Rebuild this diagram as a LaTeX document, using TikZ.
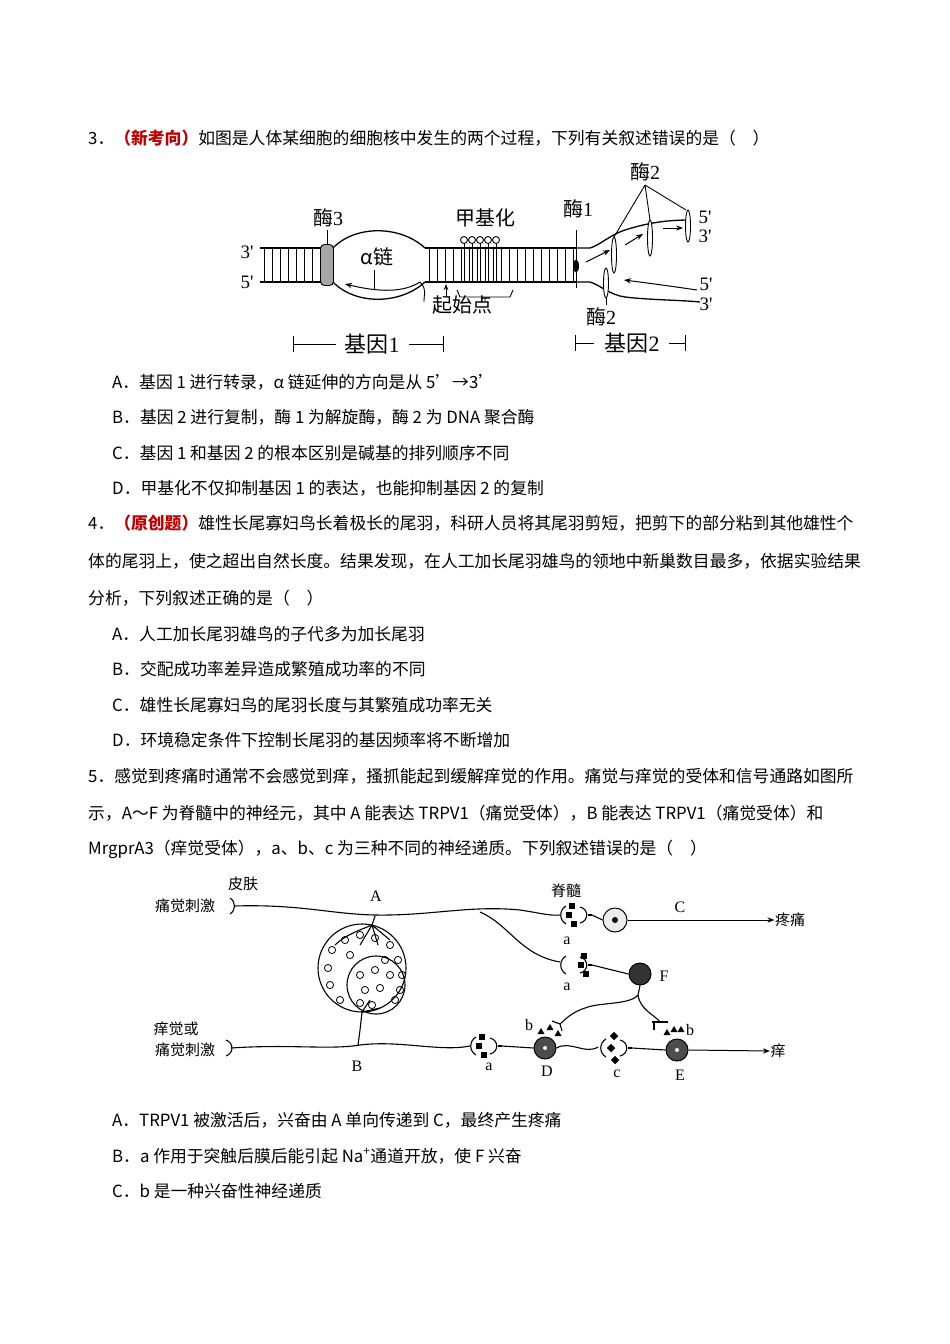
\documentclass[tikz,border=0pt]{standalone}
\usepackage{fontspec}
\setmainfont{Noto Sans CJK SC}
\newfontfamily\latf{Liberation Serif}
\usetikzlibrary{arrows.meta,shapes.geometric}
\definecolor{dred}{HTML}{C00000}
\newcommand{\ap}{{\char"27}}
\newcommand{\mysyn}[2]{%
 \draw (#1+8,#2-9) .. controls (#1+1,#2-5) and (#1+1,#2+5) .. (#1+8,#2+9);
 \draw (#1+22,#2-8) .. controls (#1+31,#2-6) and (#1+31,#2+6) .. (#1+22,#2+8);
 \draw (#1+30,#2) -- (#1+34,#2);}
\newcommand{\sqves}[2]{\fill (#1+11,#2-12) rectangle (#1+17,#2-6);\fill (#1+8,#2-3) rectangle (#1+14,#2+3);\fill (#1+13,#2+6) rectangle (#1+19,#2+12);}
\begin{document}
\begin{tikzpicture}[x=1pt,y=-1pt,
 body/.style={anchor=west,font=\fontsize{16.8}{18}\selectfont,inner sep=0},
 lab/.style={font=\fontsize{20}{22}\selectfont,inner sep=0},
 slab/.style={font=\fontsize{15}{17}\selectfont,inner sep=0},
 llab/.style={font=\fontsize{16}{17}\selectfont\latf,inner sep=0},
 strand/.style={line width=1.3pt},
 arr/.style={-{Stealth[length=7pt]},line width=1pt},
 cell/.style={circle,draw,line width=1pt,minimum size=24pt,inner sep=0}]
\useasboundingbox (0,0) rectangle (950,1344);
\fill[white] (0,0) rectangle (950,1344);
% ---------- text ----------
\node[body] (q3) at (88,138) {3．\textcolor{dred}{\textbf{（新考向）}}如图是人体某细胞的细胞核中发生的两个过程，下列有关叙述错误的是（\quad ）};
\node[body] (q3a) at (112,382) {A．基因 1 进行转录，α 链延伸的方向是从 5\ap→3\ap};
\node[body] (q3b) at (112,417) {B．基因 2 进行复制，酶 1 为解旋酶，酶 2 为 DNA 聚合酶};
\node[body] (q3c) at (112,453) {C．基因 1 和基因 2 的根本区别是碱基的排列顺序不同};
\node[body] (q3d) at (112,488) {D．甲基化不仅抑制基因 1 的表达，也能抑制基因 2 的复制};
\node[body] (q4) at (88,523) {4．\textcolor{dred}{\textbf{（原创题）}}雄性长尾寡妇鸟长着极长的尾羽，科研人员将其尾羽剪短，把剪下的部分粘到其他雄性个};
\node[body] (q4l2) at (88,561) {体的尾羽上，使之超出自然长度。结果发现，在人工加长尾羽雄鸟的领地中新巢数目最多，依据实验结果};
\node[body] (q4l3) at (88,598) {分析，下列叙述正确的是（\quad ）};
\node[body] (q4a) at (112,634) {A．人工加长尾羽雄鸟的子代多为加长尾羽};
\node[body] (q4b) at (112,669) {B．交配成功率差异造成繁殖成功率的不同};
\node[body] (q4c) at (112,705) {C．雄性长尾寡妇鸟的尾羽长度与其繁殖成功率无关};
\node[body] (q4d) at (112,740) {D．环境稳定条件下控制长尾羽的基因频率将不断增加};
\node[body] (q5) at (88,776) {5．感觉到疼痛时通常不会感觉到痒，搔抓能起到缓解痒觉的作用。痛觉与痒觉的受体和信号通路如图所};
\node[body] (q5l2) at (88,813) {示，A～F 为脊髓中的神经元，其中 A 能表达 TRPV1（痛觉受体），B 能表达 TRPV1（痛觉受体）和};
\node[body] (q5l3) at (88,849) {MrgprA3（痒觉受体），a、b、c 为三种不同的神经递质。下列叙述错误的是（\quad ）};
\node[body] (q5a) at (112,1120) {A．TRPV1 被激活后，兴奋由 A 单向传递到 C，最终产生疼痛};
\node[body] (q5b) at (112,1156) {B．a 作用于突触后膜后能引起 Na\textsuperscript{+}通道开放，使 F 兴奋};
\node[body] (q5c) at (112,1191) {C．b 是一种兴奋性神经递质};
% ---------- figure 1 ----------
\begin{scope}[line width=0.9pt]
\draw[strand] (260,248) -- (322,248) (260,282) -- (322,282);
\foreach \x in {264,272,...,316} \draw (\x,248) -- (\x,282);
\draw[strand] (333,248) .. controls (355,225) and (400,225) .. (425,248);
\draw[strand] (333,282) .. controls (355,305) and (400,305) .. (425,282);
\draw[strand] (425,248) -- (577,248) (425,282) -- (577,282);
\foreach \x in {429,437,...,573} \draw (\x,248) -- (\x,282);
\node[draw,fill=gray!70,rounded corners=4pt,minimum width=13pt,minimum height=41pt,inner sep=0] (e3) at (327,265) {};
\draw (e3.north) -- (327,230);
\node[lab] (e3l) at (328,218) {酶{\latf 3}};
\draw[line width=1pt,-{Stealth[length=7pt]}] (420,282) .. controls (400,295) and (370,290) .. (345,284);
\draw (374,270) -- (374,290);
\draw (420,282) .. controls (428,290) and (423,298) .. (424,302);
\node[lab] (al) at (377,257) {α链};
\foreach \x in {464,472,...,496} {\draw (\x,240) circle (3.5); \draw (\x,243.5) -- (\x,282);}
\node[lab] (me) at (485,218) {甲基化};
\draw (457,290) -- (460,297) -- (510,297) -- (513,290) (485,297) -- (485,301);
\node[lab] (st) at (462,305) {起始点};
\draw[-{Stealth[length=6pt]}] (446,297) -- (446,284);
\node[ellipse,fill=black,minimum width=6pt,minimum height=13pt,inner sep=0] (e1) at (576,266) {};
\draw (576,230) -- (576,288);
\node[lab] (e1l) at (578,209) {酶{\latf 1}};
\draw[strand] (577,248) -- (590,248) .. controls (600,245) and (610,235) .. (625,230) .. controls (650,222) and (670,220) .. (690,220);
\draw[strand] (577,282) -- (590,282) .. controls (600,285) and (610,295) .. (625,297) .. controls (650,300) and (680,300) .. (700,302);
\foreach \p/\h in {(614,255)/36,(650,238)/36,(688,226)/32}
 \node[draw,fill=white,ellipse,minimum width=5pt,minimum height=\h pt,inner sep=0] at \p {};
\node[draw,fill=white,ellipse,minimum width=5pt,minimum height=30pt,inner sep=0] (e2b) at (606,283) {};
\node[lab] (e2t) at (645,172) {酶{\latf 2}};
\draw (645,185) -- (614,237) (645,185) -- (650,220) (645,185) -- (686,210);
\draw (e2b.south) -- (606,305);
\node[lab] (e2bl) at (601,317) {酶{\latf 2}};
\draw[arr] (586,262) -- (610,250);
\draw[arr] (625,245) -- (643,234);
\draw[arr] (663,228) -- (683,228);
\draw[arr] (697,290) .. controls (670,286) and (640,282) .. (624,280);
\node[lab,font=\fontsize{19}{20}\selectfont\latf] at (247,252) {3\ap};
\node[lab,font=\fontsize{19}{20}\selectfont\latf] at (247,282) {5\ap};
\node[lab,font=\fontsize{19}{20}\selectfont\latf] at (705,217) {5\ap};
\node[lab,font=\fontsize{19}{20}\selectfont\latf] at (705,236) {3\ap};
\node[lab,font=\fontsize{19}{20}\selectfont\latf] at (706,284) {5\ap};
\node[lab,font=\fontsize{19}{20}\selectfont\latf] at (706,304) {3\ap};
\node[lab,font=\fontsize{22}{24}\selectfont] (g1) at (372,344) {基因{\latf 1}};
\draw (293,336) -- (293,352) (293,344) -- (336,344) (409,344) -- (443,344) (443,336) -- (443,352);
\node[lab,font=\fontsize{22}{24}\selectfont] (g2) at (632,343) {基因{\latf 2}};
\draw (575,335) -- (575,351) (575,343) -- (594,343) (669,343) -- (685,343) (685,335) -- (685,351);
\end{scope}
% ---------- figure 2 ----------
\begin{scope}[line width=1.1pt]
\node[slab] at (243,884) {皮肤};
\node[slab] at (185,906) {痛觉刺激};
\node[llab] at (376,896) {A};
\node[slab] at (566,891) {脊髓};
\node[llab] at (680,907) {C};
\node[slab] (pain) at (790,920) {疼痛};
\node[llab] at (567,941) {a};
\node[llab] at (567,987) {a};
\node[llab] at (664,976) {F};
\node[slab] at (176,1029) {痒觉或};
\node[slab] at (185,1050) {痛觉刺激};
\node[llab] at (357,1066) {B};
\node[llab] at (489,1067) {a};
\node[llab] at (529,1025) {b};
\node[llab] at (547,1071) {D};
\node[llab] at (617,1074) {c};
\node[llab] at (680,1075) {E};
\node[llab] at (690,1030) {b};
\node[slab] (itch) at (778,1051) {痒};
\draw (230,898) .. controls (236,902) and (236,910) .. (230,914);
\draw (234,906) .. controls (300,904) and (330,914) .. (375,915) .. controls (430,916) and (470,905) .. (520,910) .. controls (540,913) and (550,916) .. (560,915);
\mysyn{558}{915}\sqves{558}{915}
\node[cell,fill=gray!15] (C) at (615,920) {};
\fill (615,920) circle (3);
\draw (592,915) -- (C.west);
\draw[arr] (C.east) -- (pain.west);
\draw (480,912) .. controls (510,925) and (520,955) .. (560,962);
\mysyn{558}{965}\sqves{570}{965}
\node[cell,fill=black!80,minimum size=22pt] (F) at (640,974) {};
\draw (592,965) -- (F.west);
\draw (362,968) circle (44);
\draw (376,985) circle (29);
\foreach \p in {(332,950),(345,940),(360,935),(375,938),(390,945),(398,960),(402,975),(328,968),(330,985),(340,1000),(350,955),(385,960),(400,990)} \draw[line width=0.8pt] \p circle (3.6);
\foreach \p in {(360,975),(375,970),(390,975),(365,990),(380,988),(395,1000),(372,1005),(360,1003)} \draw[line width=0.8pt] \p circle (3.6);
\draw (375,916) -- (372,925) .. controls (360,930) and (345,935) .. (335,945);
\draw (372,925) -- (360,945) (372,925) -- (378,945) (372,925) -- (390,940);
\draw (362,1012) -- (360,1030) -- (358,1045);
\draw (362,1012) -- (370,1000) (362,1012) -- (380,1008);
\draw (226,1040) .. controls (234,1043) and (234,1053) .. (226,1056);
\draw (231,1048) .. controls (290,1044) and (330,1050) .. (360,1045) .. controls (400,1040) and (440,1052) .. (470,1046);
\mysyn{468}{1046}\sqves{468}{1046}
\node[cell,fill=black!70,minimum size=22pt] (D) at (545,1048) {};
\fill[white] (545,1048) circle (2);
\draw (502,1046) -- (D.west);
\draw (D.east) .. controls (570,1040) and (585,1055) .. (598,1047);
\mysyn{598}{1048}
\fill[rotate around={45:(614,1036)}] (611,1033) rectangle (617,1039);
\fill[rotate around={45:(611,1048)}] (608,1045) rectangle (614,1051);
\fill[rotate around={45:(615,1060)}] (612,1057) rectangle (618,1063);
\node[cell,fill=black!70,minimum size=22pt] (E) at (677,1050) {};
\fill[white] (677,1050) circle (2);
\draw (632,1048) -- (E.west);
\draw[arr] (E.east) -- (itch.west);
\draw (F.south) -- (638,995) .. controls (630,1005) and (600,1002) .. (585,1008) .. controls (570,1013) and (565,1020) .. (560,1024);
\draw (552,1021) -- (560,1024) -- (562,1031);
\foreach \p in {(541,1032),(550,1028),(558,1034)} \fill \p ++(0,-4) -- ++(3.5,6) -- ++(-7,0) -- cycle;
\draw (638,995) .. controls (640,1010) and (655,1015) .. (660,1022);
\draw (652,1022) -- (668,1022) (654,1022) -- (654,1030);
\foreach \p in {(667,1033),(674,1030),(681,1030)} \fill \p ++(0,-4) -- ++(3.5,6) -- ++(-7,0) -- cycle;
\end{scope}
\end{tikzpicture}
\end{document}
